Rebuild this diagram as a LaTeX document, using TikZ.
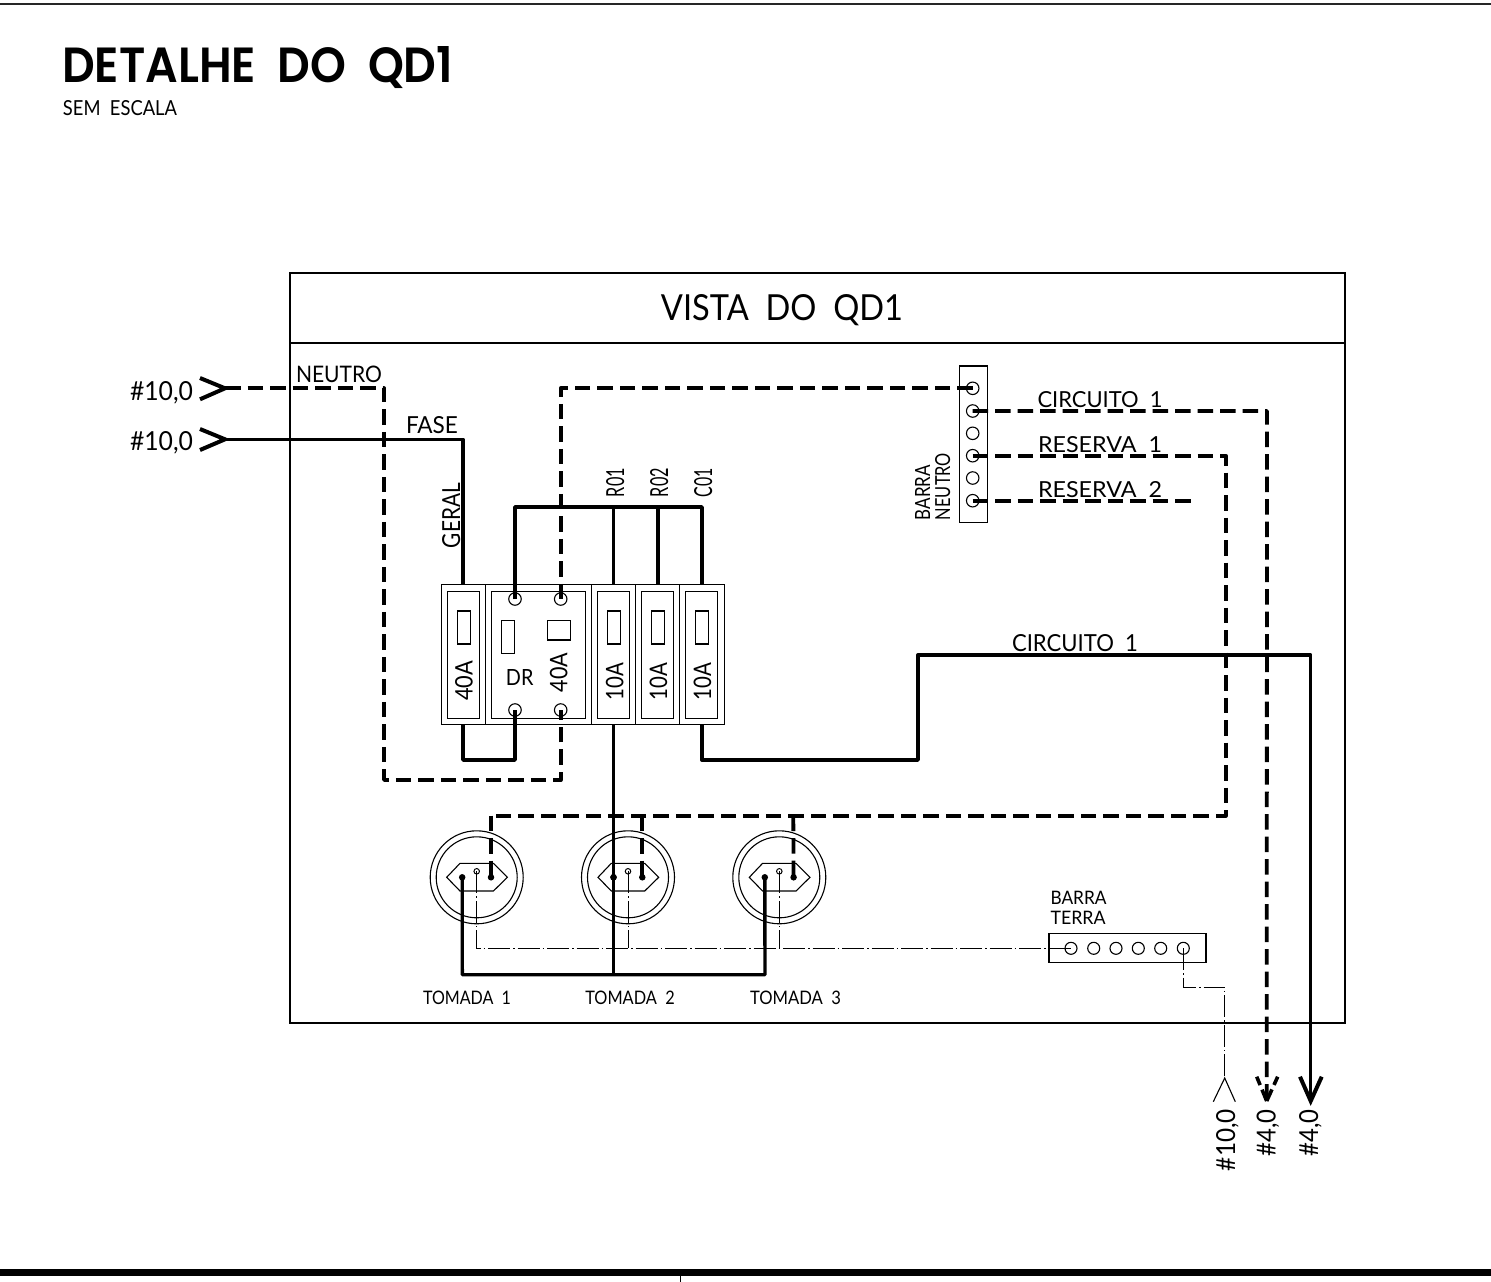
\documentclass[tikz,border=0pt]{standalone}
\usepackage{graphicx}
\usepackage{fontspec}
\setmainfont{Lato}
\newfontfamily\ttlfont{Poppins SemiBold}
\newcommand{\fitlbl}[3]{\resizebox{#1pt}{#2pt}{#3}}
\tikzset{
  thinln/.style={line width=1.1pt,black},
  wire/.style={line width=3.4pt,black,line join=round,line cap=butt},
  dwire/.style={wire,line width=3.8pt,dash pattern=on 15.5pt off 7pt},
  gnd/.style={line width=1pt,black,dash pattern=on 22pt off 3pt on 1.5pt off 3pt},
  rbox/.style={draw,line width=1.1pt,inner sep=0pt,outer sep=0pt},
  term/.style={circle,draw,line width=1.1pt,minimum size=12.5pt,inner sep=0pt,outer sep=0pt},
  hole/.style={circle,draw,line width=1pt,fill=white,minimum size=5.5pt,inner sep=0pt},
  pin/.style={circle,fill=black,minimum size=6.5pt,inner sep=0pt},
  lbl/.style={inner sep=0pt,outer sep=0pt,anchor=base},
  rlbl/.style={lbl,rotate=90},
}
\newcommand{\tomada}[2]{%
  \node[circle,draw,line width=1.1pt,minimum size=93pt,inner sep=0pt] (#1o) at (#2,877.3) {};
  \node[circle,draw,line width=1.1pt,minimum size=81pt,inner sep=0pt] (#1i) at (#2,877.3) {};
  \draw[thinln] (#2-30,877.3) -- (#2-16.7,863.3) -- (#2+16.7,863.3) -- (#2+30.7,877.3) -- (#2+16.7,891) -- (#2-16.7,891) -- cycle;
  \node[pin] (#1f) at (#2-14.5,877.3) {};
  \node[pin] (#1n) at (#2+14.3,877.3) {};
  \node[hole] (#1g) at (#2,871.3) {};
}
\begin{document}
\begin{tikzpicture}[x=1pt,y=-1pt]
\useasboundingbox (0,0) rectangle (1491,1282);
% sheet lines
\coordinate (sl) at (0,4); \coordinate (sr) at (1491,4);
\draw[line width=1.8pt,black!85] (sl) -- (sr);
\coordinate (bl) at (0,1272.3); \coordinate (br) at (1491,1272.3);
\draw[line width=7.6pt] (bl) -- (br);
\coordinate (t1) at (680.5,1276); \coordinate (t2) at (680.5,1282);
\draw[line width=1.2pt] (t1) -- (t2);
% title
\node[lbl] (title) at (257.7,82.7) {\fitlbl{391}{36}{\ttlfont DETALHE\ \ DO\ \ QD1}};
\node[lbl] (sem) at (120,115) {\fitlbl{114}{15}{SEM\ \ ESCALA}};
% frame
\node[rbox,minimum width=1055pt,minimum height=750pt] (frame) at (817.5,648) {};
\coordinate (hl) at (290,343); \coordinate (hr) at (1345,343);
\draw[thinln] (hl) -- (hr);
\node[lbl] (vista) at (782,320) {\fitlbl{242}{26}{VISTA\ \ DO\ \ QD1}};
% breakers
\node[rbox,minimum width=44.3pt,minimum height=140pt] (b1) at (463.2,654.3) {};
\node[rbox,minimum width=106.4pt,minimum height=140pt] (dr) at (538.5,654.3) {};
\node[rbox,minimum width=44pt,minimum height=140pt] (b2) at (613.7,654.3) {};
\node[rbox,minimum width=44pt,minimum height=140pt] (b3) at (657.7,654.3) {};
\node[rbox,minimum width=44.3pt,minimum height=140pt] (b4) at (701.9,654.3) {};
\node[rbox,minimum width=32.3pt,minimum height=127.3pt] (b1i) at (463.2,654.7) {};
\node[rbox,minimum width=94pt,minimum height=127.3pt] (dri) at (538.3,654.7) {};
\node[rbox,minimum width=32.3pt,minimum height=127.3pt] (b2i) at (613.5,654.7) {};
\node[rbox,minimum width=32.3pt,minimum height=127.3pt] (b3i) at (657.5,654.7) {};
\node[rbox,minimum width=32pt,minimum height=127.3pt] (b4i) at (701.7,654.7) {};
\node[rbox,minimum width=12.7pt,minimum height=33pt] (b1s) at (463.7,627.5) {};
\node[rbox,minimum width=12.7pt,minimum height=32.6pt] (drs) at (507.7,637) {};
\node[rbox,minimum width=22.7pt,minimum height=19.3pt] (drq) at (558.7,630.3) {};
\node[rbox,minimum width=12.7pt,minimum height=33pt] (b2s) at (614,627.5) {};
\node[rbox,minimum width=12.7pt,minimum height=33pt] (b3s) at (658,627.5) {};
\node[rbox,minimum width=12.7pt,minimum height=33pt] (b4s) at (702.2,627.5) {};
\node[term] (drtl) at (515,599) {};
\node[term] (drtr) at (560.7,599) {};
\node[term] (drbl) at (515,710) {};
\node[term] (drbr) at (560.7,710) {};
\node[rlbl] (a1) at (472.7,680.7) {\fitlbl{40}{17.5}{40A}};
\node[lbl] (drl) at (519.7,685) {\fitlbl{27.5}{16}{DR}};
\node[rlbl] (a2) at (567.3,672.3) {\fitlbl{39.5}{17.5}{40A}};
\node[rlbl] (a3) at (623.3,681.5) {\fitlbl{37.5}{17.5}{10A}};
\node[rlbl] (a4) at (667,681.5) {\fitlbl{37.5}{17.5}{10A}};
\node[rlbl] (a5) at (711,681.5) {\fitlbl{37.5}{17.5}{10A}};
\node[rlbl] (geral) at (460,515.5) {\fitlbl{65}{18}{GERAL}};
\node[rlbl] (r01) at (624,482.5) {\fitlbl{29}{18}{R01}};
\node[rlbl] (r02) at (668,482.5) {\fitlbl{29}{18}{R02}};
\node[rlbl] (c01) at (712,482.5) {\fitlbl{29}{18}{C01}};
% barra neutro
\node[rbox,minimum width=28.3pt,minimum height=156.7pt] (bn) at (973.2,444.3) {};
\node[term] (n1) at (972.7,388.3) {};
\node[term] (n2) at (972.7,411) {};
\node[term] (n3) at (972.7,433.3) {};
\node[term] (n4) at (972.7,455.7) {};
\node[term] (n5) at (972.7,478) {};
\node[term] (n6) at (972.7,500.7) {};
\node[rlbl] (bnl1) at (930,492.5) {\fitlbl{55}{15}{BARRA}};
\node[rlbl] (bnl2) at (950,486.5) {\fitlbl{67}{15}{NEUTRO}};
\node[lbl] (cir1) at (1100,407) {\fitlbl{125}{16}{CIRCUITO\ \ 1}};
\node[lbl] (res1) at (1100,452) {\fitlbl{124}{16}{RESERVA\ \ 1}};
\node[lbl] (res2) at (1100,497) {\fitlbl{124}{16}{RESERVA\ \ 2}};
\node[lbl] (cir2) at (1075,651) {\fitlbl{126}{17}{CIRCUITO\ \ 1}};
\node[lbl] (neutro) at (339,382) {\fitlbl{86}{16.5}{NEUTRO}};
\node[lbl] (fase) at (432,433) {\fitlbl{52}{17}{FASE}};
\node[lbl] (h1) at (161.5,400) {\fitlbl{63}{19}{\#10,0}};
\node[lbl] (h2) at (161.5,450) {\fitlbl{63}{19}{\#10,0}};
% tomadas
\tomada{ta}{476.7}
\tomada{tb}{628}
\tomada{tc}{779.3}
\node[lbl] (tl1) at (467,1004.3) {\fitlbl{88}{13.5}{TOMADA\ \ 1}};
\node[lbl] (tl2) at (630,1004.3) {\fitlbl{89.5}{13.5}{TOMADA\ \ 2}};
\node[lbl] (tl3) at (795.5,1004.3) {\fitlbl{91}{13.5}{TOMADA\ \ 3}};
% barra terra
\node[rbox,minimum width=157pt,minimum height=29pt] (bt) at (1127.5,947.8) {};
\node[term,minimum size=12pt] (g1) at (1071,948.3) {};
\node[term,minimum size=12pt] (g2) at (1093.7,948.3) {};
\node[term,minimum size=12pt] (g3) at (1116,948.3) {};
\node[term,minimum size=12pt] (g4) at (1138.3,948.3) {};
\node[term,minimum size=12pt] (g5) at (1160.7,948.3) {};
\node[term,minimum size=12pt] (g6) at (1183.3,948.3) {};
\node[lbl,anchor=base west] (btl1) at (1050.5,904) {\fitlbl{56}{13.3}{BARRA}};
\node[lbl,anchor=base west] (btl2) at (1050.5,924.5) {\fitlbl{55}{13.3}{TERRA}};
% terminal labels at bottom
\node[rlbl] (h3) at (1235,1140) {\fitlbl{62}{19}{\#10,0}};
\node[rlbl] (h4) at (1275.5,1133) {\fitlbl{47}{19}{\#4,0}};
\node[rlbl] (h5) at (1318,1133) {\fitlbl{47}{19}{\#4,0}};
% --- free ends / tips
\coordinate (tipN) at (225,388.3);
\coordinate (tipF) at (225,439.3);
\coordinate (tipG) at (1224.7,1078);
\coordinate (tipD) at (1266.7,1101);
\coordinate (tipS) at (1310.7,1101);
\coordinate (endR2) at (1193,500.7);
% --- ground (dash-dot)
\draw[gnd] (tag.center) -- (tag.center |- g1.center) -- (g1.center);
\draw[gnd] (tbg.center) -- (tbg.center |- g1.center);
\draw[gnd] (tcg.center) -- (tcg.center |- g1.center);
\coordinate (gb1) at (1183.3,987);
\coordinate (gb2) at (1224.7,987);
\draw[gnd] (g6.center) -- (gb1) -- (gb2) -- (tipG);
\coordinate (gl) at (1213.3,1101.7); \coordinate (gr) at (1235.3,1101.7);
\draw[thinln] (gl) -- (tipG) -- (gr);
% --- solid wires
\coordinate (f1) at (463,439.3);
\draw[wire] (tipF) -- (f1) -- (b1.north -| f1);
\draw[wire] (drtl.center) |- (702,507) coordinate (bus) -- (b4.north -| bus);
\draw[wire] (613.5,507) coordinate (bus2) -- (b2.north -| bus2);
\draw[wire] (658,507) coordinate (bus3) -- (b3.north -| bus3);
\draw[wire] (463,724.3) coordinate (lk) |- (515,760) -- (drbl.center);
\coordinate (c1) at (702,724.3);
\coordinate (c2) at (702,760);
\coordinate (c3) at (918,760);
\coordinate (c4) at (918,655);
\coordinate (c5) at (1310.7,655);
\draw[wire] (c1) -- (c2) -- (c3) -- (c4) -- (c5) -- (tipS);
\draw[wire] (613.5,724.3) coordinate (r1) -- (613.5,974.7) coordinate (r2);
\coordinate (tfa) at (462.3,974.7);
\coordinate (tfc) at (765,974.7);
\draw[wire] (taf.center) -- (tfa) -- (tfc) -- (tcf.center);
\node[pin] (bpin) at (613.5,877.3) {};
% --- dashed wires
\coordinate (nu1) at (384,388.3);
\coordinate (nu2) at (384,780);
\coordinate (nu3) at (560.7,780);
\draw[dwire] (tipN) -- (nu1) -- (nu2) -- (nu3) -- (drbr.center);
\coordinate (nb) at (560.7,388.3);
\draw[dwire] (n1.center) -- (nb) -- (drtr.center);
\coordinate (c1a) at (1267,411);
\draw[dwire] (n2.center) -- (c1a) -- (tipD);
\coordinate (ra) at (1225.7,455.7);
\coordinate (rb) at (1225.7,815.7);
\coordinate (rc) at (491,815.7);
\draw[dwire] (n4.center) -- (ra) -- (rb) -- (rc);
\draw[dwire] (rc) -- (tan.center);
\coordinate (rd) at (642.3,815.7);
\coordinate (re) at (793.3,815.7);
\draw[dwire] (rd) -- (tbn.center);
\draw[dwire] (re) -- (tcn.center);
\draw[dwire] (n6.center) -- (endR2);
% --- arrowheads
\coordinate (la1) at (200,378); \coordinate (la2) at (200,399.3);
\draw[wire,line width=4pt,line join=miter] (la1) -- (tipN) -- (la2);
\coordinate (lb1) at (200,429); \coordinate (lb2) at (200,450);
\draw[wire,line width=4pt,line join=miter] (lb1) -- (tipF) -- (lb2);
\coordinate (sa1) at (1300,1076.7); \coordinate (sa2) at (1321.7,1076.7);
\draw[wire,line width=4pt,line join=miter] (sa1) -- (tipS) -- (sa2);
\coordinate (da1) at (1256.7,1076.7); \coordinate (da2) at (1277.7,1076.7);
\draw[wire,line width=3.6pt,dash pattern=on 9pt off 5pt on 30pt] (da1) -- (tipD);
\draw[wire,line width=3.6pt,dash pattern=on 9pt off 5pt on 30pt] (da2) -- (tipD);
\end{tikzpicture}
\end{document}
